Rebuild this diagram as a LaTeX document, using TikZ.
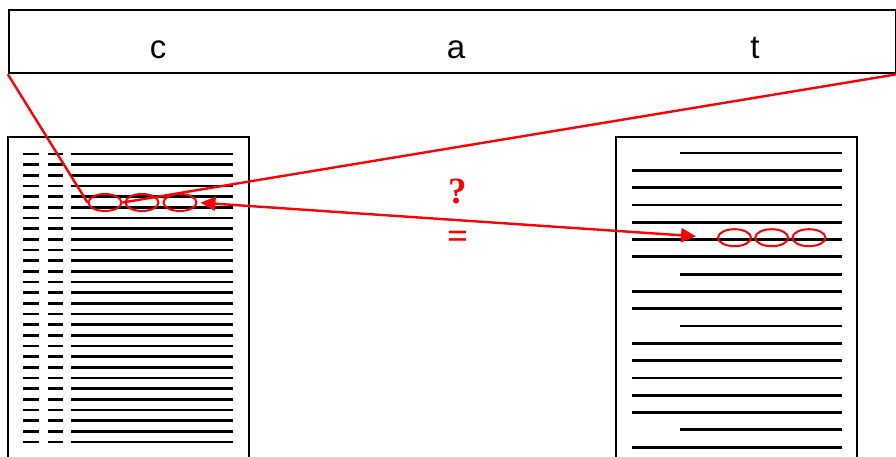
\documentclass[tikz,border=0pt]{standalone}
\usepackage{fontspec}
\setmainfont{Liberation Serif}
\setsansfont{Liberation Sans}
\usetikzlibrary{shapes.geometric,arrows.meta,positioning,calc}
\definecolor{MatchRed}{HTML}{FF0000}
\tikzset{
    % Box holding the query word
    wordbox/.style={
        draw=black,
        line width=2.4pt,
        minimum width=887pt,
        minimum height=63pt,
        inner sep=0pt
    },
    % Letters of the word
    letternode/.style={
        font=\sffamily\fontsize{33}{38}\selectfont,
        inner sep=0pt,
        anchor=base
    },
    % Document page
    docpage/.style={
        draw=black,
        line width=2.4pt,
        minimum width=241pt,
        minimum height=343pt,
        inner sep=0pt
    },
    % Text line on a page
    textline/.style={
        line width=2.8pt,
        draw=black
    },
    % Marked character
    charmark/.style={
        ellipse,
        draw=MatchRed,
        line width=2pt,
        minimum width=33pt,
        minimum height=17pt,
        inner sep=0pt
    },
    % Red link line
    linkline/.style={
        draw=MatchRed,
        line width=2.4pt
    },
    % Comparison arrow
    matcharrow/.style={
        {Triangle[length=15pt,width=14pt]}-{Triangle[length=15pt,width=14pt]},
        draw=MatchRed,
        line width=2.4pt
    },
    % Red signs
    signnode/.style={
        text=MatchRed,
        font=\bfseries\fontsize{37}{40}\selectfont,
        inner sep=0pt
    }
}

\begin{document}
\begin{tikzpicture}[x=1pt, y=-1pt]
    \useasboundingbox (0,0) rectangle (896,456);

    % Word
    \node[wordbox] (word) at (452.5,41.5) {};
    \node[letternode] (lc) at (158,58) {c};
    \node[letternode] (la) at (456,58) {a};
    \node[letternode] (lt) at (755,58) {t};

    % Pages
    \node[docpage] (left) at (128.5,308.5) {};
    \node[docpage] (right) at (736.5,308.5) {};

    % Lines of the left page
    \foreach \i in {0,...,27} {
        \draw[textline] (23,154+10.667*\i) -- (39,154+10.667*\i);
        \draw[textline] (48,154+10.667*\i) -- (63,154+10.667*\i);
        \draw[textline] (71,154+10.667*\i) -- (233,154+10.667*\i);
    }

    % Lines of the right page
    \foreach \s [count=\i from 0] in {680,632,632,632,632,632,632,680,632,632,680,632,632,632,632,632,680,632}
        \draw[textline] (\s,153+17.3*\i) -- (842,153+17.3*\i);

    % Marked characters
    \node[charmark] (mc) at (105,202.5) {};
    \node[charmark] (ma) at (142,202.5) {};
    \node[charmark] (mt) at (180,202.5) {};
    \node[charmark] (nc) at (734.5,237.7) {};
    \node[charmark] (na) at (771.7,237.7) {};
    \node[charmark] (nt) at (809,237.7) {};

    % Links
    \draw[linkline] (word.south west) -- (mc.west);
    \draw[linkline] (word.south east) -- (mc.east);
    \draw[matcharrow, shorten <=3pt, shorten >=21pt] (mt.east) -- (nc.west);

    % Signs
    \node[signnode] (ask) at (458,191.5) {?};
    \node[signnode] (eq) at (458,240) {=};
\end{tikzpicture}
\end{document}
